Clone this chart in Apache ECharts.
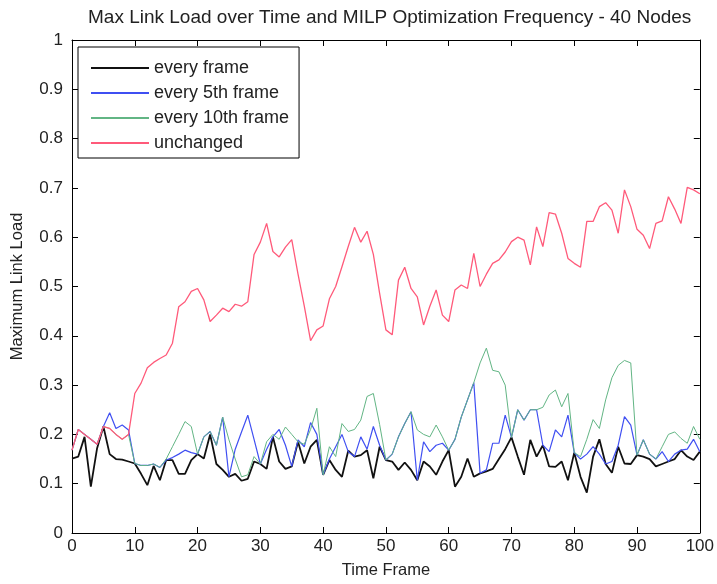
<!DOCTYPE html>
<html>
<head>
<meta charset="utf-8">
<script src="https://cdn.jsdelivr.net/npm/echarts@6/dist/echarts.min.js"></script>
<style>
html,body{margin:0;padding:0;background:#fff;}
#chart{width:717px;height:584px;}
</style>
</head>
<body>
<div id="chart"></div>
<script>
// Frames 0..100 (x axis categories)
var frames = [];
for (var i = 0; i <= 100; i++) frames.push(i);

var seriesNames = ['every frame', 'every 5th frame', 'every 10th frame', 'unchanged'];

var everyFrame = [
0.151,0.155,0.195,0.094,0.172,0.216,0.160,0.150,0.149,0.145,
0.141,0.120,0.097,0.136,0.107,0.148,0.148,0.120,0.120,0.148,
0.160,0.151,0.200,0.140,0.128,0.114,0.120,0.106,0.110,0.145,
0.140,0.130,0.195,0.145,0.130,0.135,0.185,0.141,0.175,0.189,
0.118,0.148,0.128,0.114,0.167,0.155,0.158,0.168,0.111,0.175,
0.148,0.145,0.128,0.143,0.128,0.107,0.145,0.135,0.118,0.145,
0.168,0.094,0.114,0.151,0.114,0.121,0.125,0.130,0.150,0.170,
0.194,0.155,0.118,0.189,0.155,0.178,0.135,0.134,0.145,0.107,
0.163,0.114,0.082,0.155,0.190,0.140,0.122,0.175,0.141,0.140,
0.158,0.155,0.150,0.135,0.140,0.145,0.150,0.168,0.155,0.148,0.165
];

var every5th = [
0.168,0.210,0.200,0.190,0.180,0.216,0.244,0.212,0.219,0.209,
0.141,0.137,0.137,0.140,0.133,0.148,0.153,0.160,0.168,0.163,
0.160,0.195,0.206,0.178,0.235,0.114,0.170,0.205,0.239,0.190,
0.140,0.170,0.195,0.210,0.178,0.135,0.189,0.175,0.224,0.200,
0.118,0.150,0.175,0.200,0.165,0.155,0.195,0.170,0.216,0.178,
0.148,0.160,0.195,0.222,0.246,0.107,0.185,0.165,0.178,0.182,
0.168,0.190,0.235,0.270,0.305,0.121,0.128,0.182,0.182,0.239,
0.194,0.250,0.229,0.250,0.250,0.178,0.165,0.209,0.195,0.239,
0.163,0.150,0.160,0.175,0.160,0.140,0.145,0.178,0.236,0.219,
0.158,0.189,0.160,0.150,0.165,0.145,0.160,0.168,0.170,0.190,0.165
];

var every10th = [
0.168,0.210,0.200,0.190,0.180,0.216,0.212,0.200,0.190,0.200,
0.141,0.137,0.137,0.140,0.133,0.150,0.175,0.200,0.226,0.216,
0.160,0.195,0.206,0.178,0.235,0.189,0.150,0.114,0.118,0.155,
0.140,0.185,0.200,0.190,0.215,0.200,0.185,0.180,0.210,0.253,
0.118,0.175,0.155,0.222,0.206,0.210,0.229,0.277,0.283,0.220,
0.148,0.160,0.195,0.222,0.246,0.209,0.200,0.195,0.219,0.195,
0.168,0.190,0.235,0.270,0.305,0.345,0.375,0.330,0.327,0.300,
0.194,0.250,0.229,0.250,0.250,0.255,0.280,0.290,0.256,0.283,
0.163,0.155,0.190,0.230,0.212,0.270,0.315,0.340,0.350,0.345,
0.158,0.189,0.160,0.150,0.175,0.200,0.205,0.192,0.182,0.216,0.190
];

var unchanged = [
0.168,0.210,0.200,0.190,0.180,0.216,0.212,0.200,0.190,0.200,
0.283,0.304,0.335,0.346,0.354,0.361,0.385,0.459,0.469,0.490,
0.496,0.473,0.429,0.442,0.456,0.449,0.464,0.460,0.469,0.565,
0.590,0.628,0.571,0.560,0.580,0.595,0.525,0.460,0.390,0.412,
0.420,0.475,0.500,0.540,0.581,0.620,0.590,0.612,0.565,0.486,
0.412,0.402,0.513,0.539,0.496,0.479,0.422,0.460,0.493,0.442,
0.429,0.493,0.503,0.496,0.567,0.500,0.525,0.547,0.554,0.570,
0.591,0.600,0.594,0.544,0.621,0.581,0.650,0.647,0.608,0.557,
0.547,0.539,0.632,0.632,0.662,0.670,0.655,0.608,0.696,0.662,
0.616,0.604,0.577,0.628,0.633,0.682,0.657,0.628,0.701,0.696,0.688
];

var xTicks = {min: 0, max: 100, interval: 10};
var yTicks = {min: 0, max: 1, interval: 0.1};

var FONT = '"Liberation Sans", Arial, Helvetica, sans-serif';
var colors = ['#111111', '#3f4ff2', '#62b584', '#ff5a7a'];
var widths = [1.8, 1.2, 1.0, 1.3];
var values = [everyFrame, every5th, every10th, unchanged];

function pairs(arr) {
  return frames.map(function (f, i) { return [f, arr[i]]; });
}

var series = seriesNames.map(function (name, k) {
  return {
    name: name,
    type: 'line',
    data: pairs(values[k]),
    symbol: 'none',
    showSymbol: false,
    lineStyle: {color: colors[k], width: widths[k]},
    itemStyle: {color: colors[k]},
    emphasis: {disabled: true},
    animation: false,
    z: 2 + k
  };
});

var axisCommon = {
  type: 'value',
  axisLine: {show: true, onZero: false, lineStyle: {color: '#000', width: 1}},
  axisTick: {show: true, inside: true, length: 6, lineStyle: {color: '#000'}},
  splitLine: {show: false}
};

var chart = echarts.init(document.getElementById('chart'), null, {renderer: 'canvas'});
chart.setOption({
  backgroundColor: '#fff',
  animation: false,
  title: {
    text: 'Max Link Load over Time and MILP Optimization Frequency - 40 Nodes',
    left: 88, top: 8, padding: 0,
    textStyle: {fontFamily: FONT, fontSize: 19, fontWeight: 'normal', color: '#222'}
  },
  legend: {
    orient: 'vertical',
    left: 78, top: 47,
    data: seriesNames,
    itemWidth: 58, itemHeight: 14, itemGap: 7,
    padding: [12, 10, 6, 12],
    borderColor: '#000', borderWidth: 1,
    backgroundColor: '#fff',
    itemStyle: {opacity: 0},
    textStyle: {fontFamily: FONT, fontSize: 18, color: '#222'}
  },
  grid: {left: 72, right: 16, top: 40, bottom: 51, containLabel: false},
  xAxis: [
    Object.assign({}, axisCommon, {
      min: xTicks.min, max: xTicks.max, interval: xTicks.interval,
      position: 'bottom',
      name: 'Time Frame', nameLocation: 'middle', nameGap: 29,
      nameTextStyle: {fontFamily: FONT, fontSize: 16.5, color: '#222'},
      axisLabel: {fontFamily: FONT, fontSize: 17, color: '#222', margin: 5}
    }),
    Object.assign({}, axisCommon, {
      min: xTicks.min, max: xTicks.max, interval: xTicks.interval,
      position: 'top', axisLabel: {show: false}
    })
  ],
  yAxis: [
    Object.assign({}, axisCommon, {
      min: yTicks.min, max: yTicks.max, interval: yTicks.interval,
      position: 'left',
      name: 'Maximum Link Load', nameLocation: 'middle', nameGap: 46,
      nameTextStyle: {fontFamily: FONT, fontSize: 16.5, color: '#222'},
      axisLabel: {fontFamily: FONT, fontSize: 17, color: '#222', margin: 9}
    }),
    Object.assign({}, axisCommon, {
      min: yTicks.min, max: yTicks.max, interval: yTicks.interval,
      position: 'right', axisLabel: {show: false}
    })
  ],
  series: series
});
</script>
</body>
</html>
